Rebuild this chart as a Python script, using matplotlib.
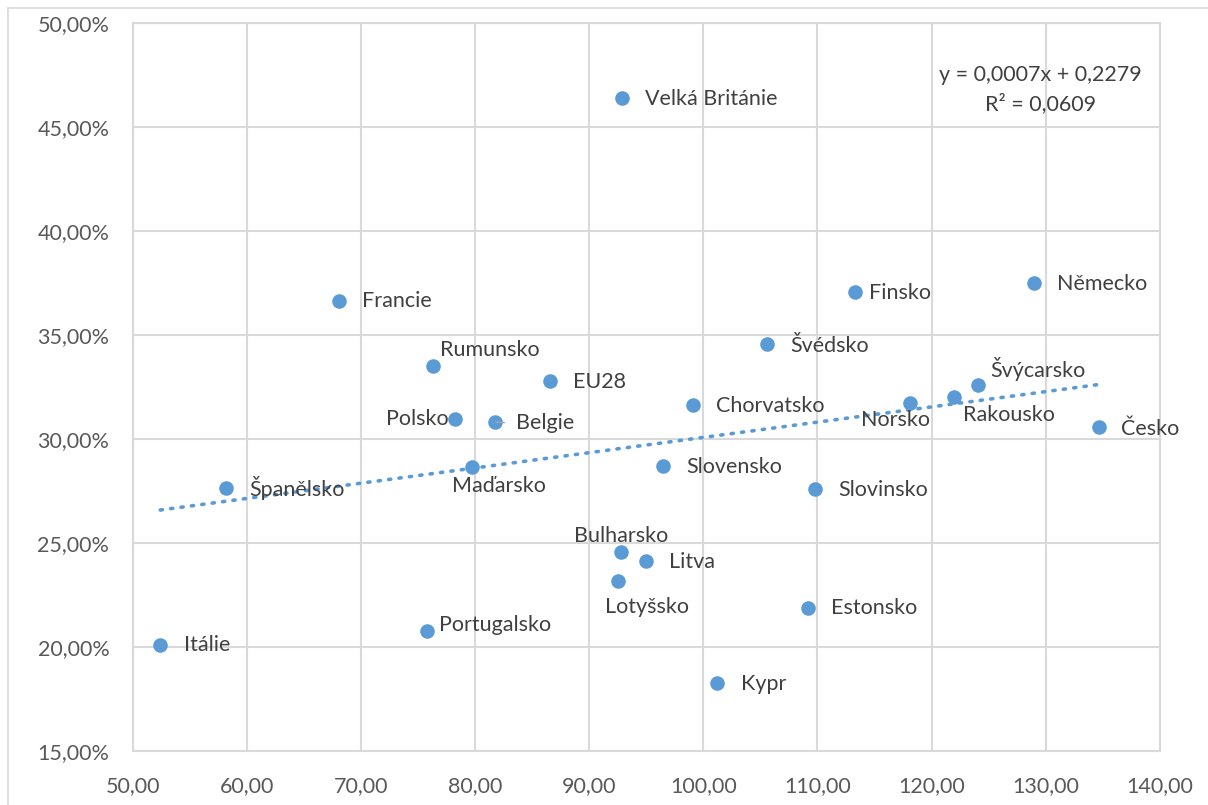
"""Scatter plot of countries with a linear trendline."""

import numpy as np
import matplotlib.pyplot as plt
from matplotlib.lines import Line2D
from matplotlib.ticker import FuncFormatter, MultipleLocator

plt.rcParams['font.family'] = ['Lato', 'DejaVu Sans']

# Data
countries = ["Itálie", "Španělsko", "Francie", "Rumunsko", "Polsko", "Belgie",
             "Maďarsko", "Portugalsko", "EU28", "Velká Británie", "Bulharsko",
             "Litva", "Lotyšsko", "Chorvatsko", "Slovensko", "Kypr", "Švédsko",
             "Slovinsko", "Estonsko", "Finsko", "Norsko", "Rakousko", "Švýcarsko",
             "Německo", "Česko"]
x_values = [52.4, 58.2, 68.1, 76.3, 78.2, 81.7, 79.7, 75.8, 86.6, 92.9, 92.8,
            95.0, 92.5, 99.1, 96.5, 101.2, 105.6, 109.8, 109.2, 113.3, 118.1,
            122.0, 124.1, 129.0, 134.7]
y_values = [0.2010, 0.2764, 0.3663, 0.3351, 0.3096, 0.3082, 0.2865, 0.2077,
            0.3279, 0.4639, 0.2457, 0.2413, 0.2317, 0.3163, 0.2870, 0.1827,
            0.3457, 0.2760, 0.2188, 0.3707, 0.3173, 0.3202, 0.3260, 0.3750,
            0.3058]
equation_text = "y = 0,0007x + 0,2279\nR² = 0,0609"

# label placement: (dx, dy) in pixels from the point, horizontal alignment
label_pos = {
    "Itálie": (24, 0, "left"), "Španělsko": (23, 0, "left"),
    "Francie": (23, 0, "left"), "Rumunsko": (7, 16, "left"),
    "Polsko": (-6, 0, "right"), "Belgie": (21, -1, "left"),
    "Maďarsko": (27, -19, "center"), "Portugalsko": (12, 6, "left"),
    "EU28": (23, -1, "left"), "Velká Británie": (23, -1, "left"),
    "Bulharsko": (0, 16, "center"), "Litva": (23, -1, "left"),
    "Lotyšsko": (29, -26, "center"), "Chorvatsko": (23, -1, "left"),
    "Slovensko": (23, -1, "left"), "Kypr": (24, -1, "left"),
    "Švédsko": (23, -2, "left"), "Slovinsko": (23, -1, "left"),
    "Estonsko": (23, 0, "left"), "Finsko": (14, -1, "left"),
    "Norsko": (-14, -17, "center"), "Rakousko": (55, -18, "center"),
    "Švýcarsko": (60, 16, "center"), "Německo": (23, -1, "left"),
    "Česko": (22, -2, "left"),
}

BLUE = "#5b9bd5"
GRID = "#d9d9d9"
TICK = "#595959"
LABEL = "#404040"
FS = 15.5

fig = plt.figure(figsize=(12.08, 8.05), dpi=100)
ax = fig.add_axes([0.110, 0.067, 0.850, 0.904])

ax.scatter(x_values, y_values, s=110, color=BLUE, zorder=3, linewidths=0)

# linear trendline
slope, intercept = np.polyfit(x_values, y_values, 1)
xs = np.array([min(x_values), max(x_values)])
ax.plot(xs, slope * xs + intercept, color=BLUE, lw=2.6,
        linestyle=(0, (0.6, 2.3)), dash_capstyle='round', zorder=2)

for name, xv, yv in zip(countries, x_values, y_values):
    dx, dy, ha = label_pos[name]
    kw = {}
    if name == "Belgie":
        kw["arrowprops"] = dict(arrowstyle='-', color='#a6a6a6', lw=1,
                                relpos=(0, 0.5), shrinkA=6, shrinkB=1)
    ax.annotate(name, (xv, yv), xytext=(dx, dy), textcoords='offset pixels',
                ha=ha, va='center', fontsize=FS, color=LABEL, zorder=4, **kw)

ax.text(0.884, 0.909, equation_text, transform=ax.transAxes, ha='center',
        va='center', fontsize=FS, color=LABEL, linespacing=1.45, zorder=4)

ax.set_xlim(50, 140)
ax.set_ylim(0.15, 0.50)
ax.xaxis.set_major_locator(MultipleLocator(10))
ax.yaxis.set_major_locator(MultipleLocator(0.05))
ax.xaxis.set_major_formatter(FuncFormatter(lambda v, p: f"{v:.2f}".replace('.', ',')))
ax.yaxis.set_major_formatter(FuncFormatter(lambda v, p: f"{v * 100:.2f}%".replace('.', ',')))
ax.tick_params(axis='both', length=0, labelsize=FS, labelcolor=TICK)
ax.tick_params(axis='x', pad=18)
ax.tick_params(axis='y', pad=17)
ax.grid(True, color=GRID, lw=1.5, zorder=0)
ax.set_axisbelow(True)
for side in ax.spines.values():
    side.set_color(GRID)
    side.set_linewidth(1.5)

# chart area border (only top and left visible in the crop)
fig.add_artist(Line2D([8 / 1208, 1], [1 - 8 / 805, 1 - 8 / 805], color=GRID, lw=1.2,
                      transform=fig.transFigure))
fig.add_artist(Line2D([8 / 1208, 8 / 1208], [0, 1 - 8 / 805], color=GRID, lw=1.2,
                      transform=fig.transFigure))

fig.savefig("out.png", dpi=100)
